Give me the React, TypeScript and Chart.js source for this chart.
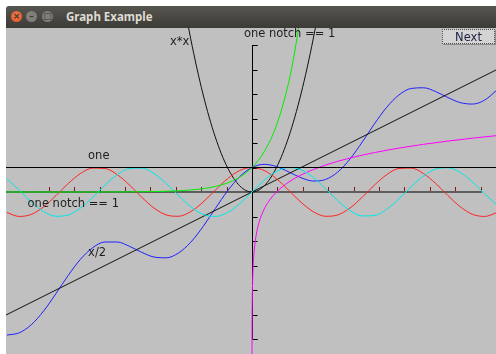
import React, { useEffect, useRef } from "react";
import { Chart, registerables } from "chart.js";

Chart.register(...registerables);

// ---- data ----
const XS = [-10, -9.5, -9, -8.5, -8, -7.5, -7, -6.5, -6, -5.5, -5, -4.5, -4, -3.5, -3, -2.5, -2, -1.5, -1, -0.5, 0,
  0.5, 1, 1.5, 2, 2.5, 3, 3.5, 4, 4.5, 5, 5.5, 6, 6.5, 7, 7.5, 8, 8.5, 9, 9.5, 10];
const RED_Y = [-0.839, -0.997, -0.911, -0.602, -0.146, 0.347, 0.754, 0.977, 0.96, 0.709, 0.284, -0.211, -0.654, -0.936, -0.99, -0.801, -0.416, 0.071, 0.54, 0.878, 1,
  0.878, 0.54, 0.071, -0.416, -0.801, -0.99, -0.936, -0.654, -0.211, 0.284, 0.709, 0.96, 0.977, 0.754, 0.347, -0.146, -0.602, -0.911, -0.997, -0.839];
const CYAN_Y = [0.544, 0.075, -0.412, -0.798, -0.989, -0.938, -0.657, -0.215, 0.279, 0.706, 0.959, 0.978, 0.757, 0.351, -0.141, -0.598, -0.909, -0.997, -0.841, -0.479, 0,
  0.479, 0.841, 0.997, 0.909, 0.598, 0.141, -0.351, -0.757, -0.978, -0.959, -0.706, -0.279, 0.215, 0.657, 0.938, 0.989, 0.798, 0.412, -0.075, -0.544];
const BLUE_Y = [-5.839, -5.747, -5.411, -4.852, -4.146, -3.403, -2.746, -2.273, -2.04, -2.041, -2.216, -2.461, -2.654, -2.686, -2.49, -2.051, -1.416, -0.679, 0.04, 0.628, 1,
  1.128, 1.04, 0.821, 0.584, 0.449, 0.51, 0.814, 1.346, 2.039, 2.784, 3.459, 3.96, 4.227, 4.254, 4.097, 3.854, 3.648, 3.589, 3.753, 4.161];
const SQ_X = [-3, -2.5, -2, -1.5, -1, -0.5, 0, 0.5, 1, 1.5, 2, 2.5, 3];
const SQ_Y = [9, 6.25, 4, 2.25, 1, 0.25, 0, 0.25, 1, 2.25, 4, 6.25, 9];
const EXP_X = [-10.5, -10, -9, -8, -7, -6, -5, -4.5, -4, -3.5, -3, -2.5, -2, -1.5, -1, -0.5, 0, 0.5, 1, 1.5, 1.75, 2, 2.25];
const EXP_Y = [0.00003, 0.00005, 0.0001, 0.0003, 0.0009, 0.0025, 0.0067, 0.0111, 0.0183, 0.0302, 0.0498, 0.0821, 0.1353, 0.2231, 0.3679, 0.6065, 1, 1.6487, 2.7183, 4.4817, 5.7546, 7.3891, 9.4877];
const LN_X = [0.001, 0.002, 0.005, 0.01, 0.02, 0.05, 0.1, 0.2, 0.3, 0.5, 0.75, 1, 1.5, 2, 3, 4, 5, 6, 7, 8, 9, 10, 10.5];
const LN_Y = [-6.908, -6.215, -5.298, -4.605, -3.912, -2.996, -2.303, -1.609, -1.204, -0.693, -0.288, 0, 0.405, 0.693, 1.099, 1.386, 1.609, 1.792, 1.946, 2.079, 2.197, 2.303, 2.351];
const HALF_X = [-10.5, 10.5];
const HALF_Y = [-5.25, 5.25];
const ONE_X = [-10.5, 10.5];
const ONE_Y = [1, 1];

const X_NOTCHES = [-8.29, -7.26, -6.22, -5.18, -4.15, -3.11, -2.07, -1.04, 1.04, 2.07, 3.11, 4.15, 5.18, 6.22, 7.26, 8.29, 9.33];
const Y_NOTCHES = [-6, -5, -4, -3, -2, -1, 1, 2, 3, 4, 5, 6];
const X_AXIS_END = 9.33;
const Y_AXIS_RANGE = [-6, 6];

const LABELS = ["x*x", "one notch == 1", "one", "one notch == 1", "x/2"];
const LABEL_X = [-3.35, -0.33, -6.69, -9.16, -6.69];
const LABEL_Y = [6.12, 6.46, 1.48, -0.5, -2.5];

const zip = (xs: number[], ys: number[]) => xs.map((x, i) => ({ x, y: ys[i] }));

const overlay = {
  id: "overlay",
  beforeDatasetsDraw(chart: any) {
    const ctx = chart.ctx;
    const xs = chart.scales.x;
    const ys = chart.scales.y;
    const area = chart.chartArea;
    const y0 = Math.round(ys.getPixelForValue(0));
    const x0 = Math.round(xs.getPixelForValue(0)) + 0.5;
    ctx.save();
    // horizontal axis
    ctx.strokeStyle = "#5e5e5e";
    ctx.lineWidth = 2;
    ctx.beginPath();
    ctx.moveTo(area.left, y0);
    ctx.lineTo(Math.round(xs.getPixelForValue(X_AXIS_END)) + 1, y0);
    ctx.stroke();
    // x notches
    ctx.strokeStyle = "#8a1414";
    ctx.lineWidth = 1;
    ctx.beginPath();
    for (const t of X_NOTCHES) {
      const px = Math.round(xs.getPixelForValue(t)) + 0.5;
      ctx.moveTo(px, y0 - 1);
      ctx.lineTo(px, y0 - 5);
    }
    ctx.stroke();
    // vertical axis
    ctx.strokeStyle = "#000";
    ctx.beginPath();
    ctx.moveTo(x0, Math.round(ys.getPixelForValue(Y_AXIS_RANGE[1])));
    ctx.lineTo(x0, Math.round(ys.getPixelForValue(Y_AXIS_RANGE[0])));
    for (const t of [...Y_NOTCHES, Y_AXIS_RANGE[0], Y_AXIS_RANGE[1]]) {
      const py = Math.round(ys.getPixelForValue(t)) + 0.5;
      ctx.moveTo(x0, py);
      ctx.lineTo(x0 + 5, py);
    }
    ctx.stroke();
    ctx.restore();
  },
  afterDatasetsDraw(chart: any) {
    const ctx = chart.ctx;
    const xs = chart.scales.x;
    const ys = chart.scales.y;
    ctx.save();
    ctx.fillStyle = "#1e1e1e";
    ctx.font = "11.5px 'DejaVu Sans'";
    ctx.textBaseline = "middle";
    ctx.textAlign = "left";
    LABELS.forEach((t, i) => {
      ctx.fillText(t, xs.getPixelForValue(LABEL_X[i]), ys.getPixelForValue(LABEL_Y[i]));
    });
    ctx.restore();
  },
};

const bg = {
  id: "bg",
  beforeDraw(chart: any) {
    const ctx = chart.ctx;
    ctx.save();
    ctx.fillStyle = "#c0c0c0";
    ctx.fillRect(0, 0, chart.width, chart.height);
    ctx.restore();
  },
};

export default function App() {
  const ref = useRef<HTMLCanvasElement | null>(null);
  useEffect(() => {
    document.body.style.margin = "0";
    const line = (data: any, color: string) => ({
      data,
      borderColor: color,
      borderWidth: 1,
      pointRadius: 0,
      showLine: true,
      fill: false,
      cubicInterpolationMode: "monotone" as const,
    });
    const chart = new Chart(ref.current as HTMLCanvasElement, {
      type: "scatter",
      data: {
        datasets: [
          line(zip(ONE_X, ONE_Y), "#000000"),
          line(zip(EXP_X, EXP_Y), "#00ee00"),
          line(zip(XS, CYAN_Y), "#00e8e8"),
          line(zip(XS, RED_Y), "#ff2222"),
          line(zip(LN_X, LN_Y), "#ff00ff"),
          line(zip(HALF_X, HALF_Y), "#111111"),
          line(zip(XS, BLUE_Y), "#2020ff"),
          line(zip(SQ_X, SQ_Y), "#111111"),
        ],
      },
      options: {
        animation: false,
        responsive: false,
        devicePixelRatio: 1,
        layout: { padding: 0 },
        plugins: { legend: { display: false }, tooltip: { enabled: false }, title: { display: false } },
        events: [],
        scales: {
          x: { type: "linear", display: false, min: -10.04, max: 9.96 },
          y: { type: "linear", display: false, min: -6.612, max: 6.694 },
        },
      },
      plugins: [bg, overlay],
    });
    return () => chart.destroy();
  }, []);

  const circle = (left: number, color: string, glyph: string) => (
    <div
      style={{
        position: "absolute",
        left,
        top: 5,
        width: 11,
        height: 11,
        borderRadius: "50%",
        background: color,
        color: "#3a3935",
        fontSize: 9,
        lineHeight: "11px",
        textAlign: "center",
        fontFamily: "'DejaVu Sans'",
        fontWeight: "bold",
      }}
    >
      {glyph}
    </div>
  );

  return (
    <div style={{ position: "fixed", left: 0, top: 0, width: 496, height: 354, background: "#fff", overflow: "hidden" }}>
      <div
        style={{
          position: "absolute",
          left: 6,
          top: 6,
          width: 490,
          height: 22,
          background: "linear-gradient(#57554f, #3c3b37)",
          borderTopLeftRadius: 3,
        }}
      >
        {circle(5, "radial-gradient(circle at 50% 40%, #f57d4e, #e0501d)", "×")}
        {circle(20, "#807e78", "–")}
        {circle(36, "#807e78", "□")}
        <div
          style={{
            position: "absolute",
            left: 60,
            top: 0,
            height: 22,
            lineHeight: "22px",
            color: "#dfdbd2",
            fontFamily: "'Noto Sans'",
            fontWeight: "bold",
            fontSize: 11.5,
            whiteSpace: "nowrap",
          }}
        >
          Graph Example
        </div>
      </div>
      <canvas ref={ref} width={490} height={326} style={{ position: "absolute", left: 6, top: 28, width: 490, height: 326 }} />
      <div
        style={{
          position: "absolute",
          left: 442,
          top: 29,
          width: 51,
          height: 13,
          background: "#d4d4d4",
          border: "1px dotted #505050",
          boxShadow: "1px 1px 0 #8a8a8a",
          color: "#1a2040",
          fontFamily: "'DejaVu Sans'",
          fontSize: 11.5,
          lineHeight: "14px",
          textAlign: "center",
        }}
      >
        Next
      </div>
    </div>
  );
}
